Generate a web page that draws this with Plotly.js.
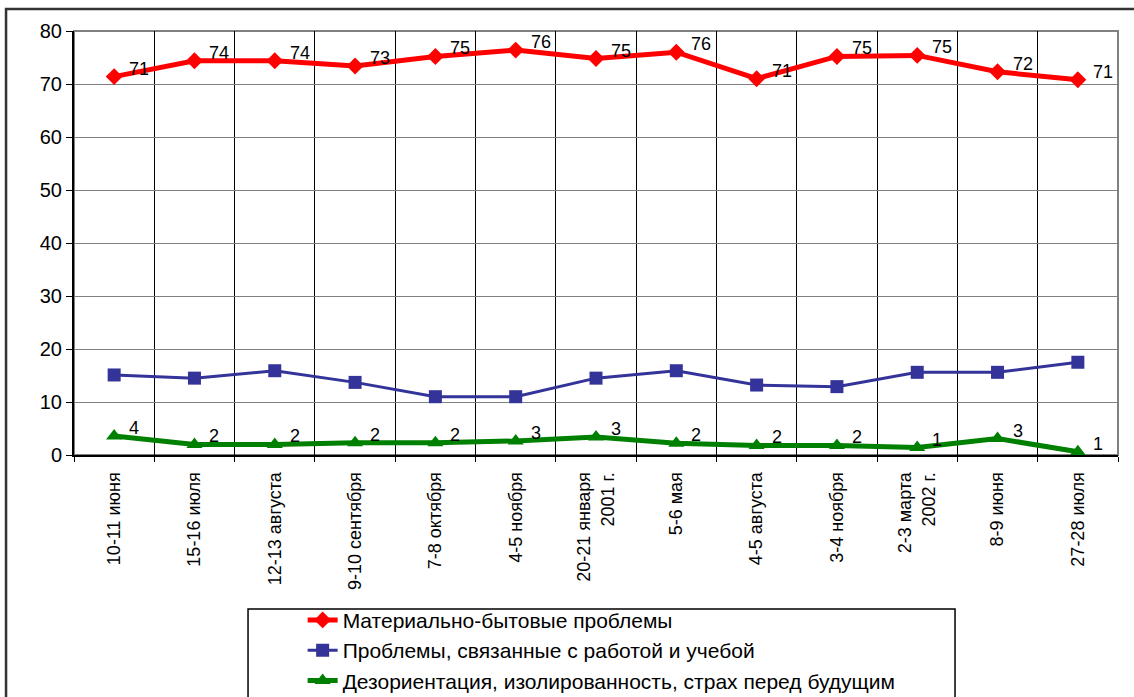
<!DOCTYPE html>
<html>
<head>
<meta charset="utf-8">
<script src="https://cdn.plot.ly/plotly-3.0.1.min.js"></script>
<style>html,body{margin:0;padding:0;background:#fff;}#chart{width:1134px;height:697px;}</style>
</head>
<body>
<div id="chart"></div>
<script>
var categories = ["10-11 июня", "15-16 июля", "12-13 августа", "9-10 сентября", "7-8 октября", "4-5 ноября",
  "20-21 января<br>2001 г.", "5-6 мая", "4-5 августа", "3-4 ноября", "2-3 марта<br>2002 г.", "8-9 июня", "27-28 июля"];
var seriesNames = ["Материально-бытовые проблемы", "Проблемы, связанные с работой и учебой", "Дезориентация, изолированность, страх перед будущим"];
var material = [71.4, 74.4, 74.4, 73.4, 75.2, 76.4, 74.8, 76.0, 71.0, 75.2, 75.4, 72.3, 70.8];
var work = [15.1, 14.5, 15.9, 13.7, 11.0, 11.0, 14.5, 15.9, 13.2, 12.9, 15.6, 15.6, 17.5];
var disorient = [3.6, 2.0, 2.0, 2.3, 2.3, 2.65, 3.4, 2.2, 1.8, 1.8, 1.4, 3.1, 0.6];
var yTicks = [0, 10, 20, 30, 40, 50, 60, 70, 80];

var FONT = "Arial, 'Liberation Sans', sans-serif";
var traces = [
  {x: categories, y: material, name: seriesNames[0], type: "scatter", mode: "lines+markers",
   line: {color: "#ff0000", width: 5}, marker: {symbol: "diamond", size: 13, color: "#ff0000"},
   cliponaxis: false, hoverinfo: "y"},
  {x: categories, y: work, name: seriesNames[1], type: "scatter", mode: "lines+markers",
   line: {color: "#333399", width: 3}, marker: {symbol: "square", size: 13, color: "#333399"},
   cliponaxis: false, hoverinfo: "y"},
  {x: categories, y: disorient, name: seriesNames[2], type: "scatter", mode: "lines+markers",
   line: {color: "#008000", width: 5}, marker: {symbol: "triangle-up", size: 14, color: "#008000"},
   cliponaxis: false, hoverinfo: "y"}
];

var annotations = [];
[material, disorient].forEach(function (arr) {
  arr.forEach(function (v, i) {
    annotations.push({x: categories[i], y: v, xref: "x", yref: "y", text: String(Math.round(v)),
      showarrow: false, xanchor: "left", yanchor: "middle", xshift: 13, yshift: 8,
      font: {family: FONT, size: 18, color: "#000"}});
  });
});

var layout = {
  width: 1134, height: 697,
  margin: {l: 74, r: 16, t: 31, b: 242},
  paper_bgcolor: "#fff", plot_bgcolor: "#fff",
  font: {family: FONT, color: "#000"},
  showlegend: true,
  xaxis: {
    type: "category", range: [-0.5, 12.5], automargin: false,
    tickson: "boundaries", showgrid: true, gridcolor: "#000", gridwidth: 1,
    ticks: "outside", ticklen: 5, tickcolor: "#000", tickangle: -90, ticklabelstandoff: 8,
    showline: true, linecolor: "#000", linewidth: 2,
    tickfont: {family: FONT, size: 18, color: "#000"}, zeroline: false, fixedrange: true
  },
  yaxis: {
    range: [0, 80], automargin: false, tickvals: yTicks, ticktext: yTicks.map(String),
    showgrid: true, gridcolor: "#808080", gridwidth: 1,
    ticks: "outside", ticklen: 6, tickcolor: "#000",
    showline: true, linecolor: "#000", linewidth: 2, zeroline: false,
    tickfont: {family: FONT, size: 20, color: "#000"}, fixedrange: true
  },
  legend: {
    xref: "paper", yref: "container", x: 0.219, y: 0.1395, xanchor: "left", yanchor: "top",
    bgcolor: "rgba(0,0,0,0)", borderwidth: 0,
    font: {family: FONT, size: 21, color: "#000"}, tracegroupgap: 0
  },
  annotations: annotations,
  shapes: [
    {type: "rect", xref: "paper", yref: "paper", x0: 0, x1: 1, y0: 0, y1: 1,
     line: {color: "#808080", width: 2}, layer: "below"},
    {type: "rect", xref: "paper", yref: "paper", x0: 0.1667, x1: 0.8439, y0: -0.3632, y1: -0.62,
     line: {color: "#000", width: 1.5}},
    {type: "rect", xref: "paper", yref: "paper", x0: -0.0651, x1: 1.05, y0: 1.0519, y1: -0.62,
     line: {color: "#333", width: 2.5}}
  ]
};

Plotly.newPlot("chart", traces, layout, {displayModeBar: false, staticPlot: true});
</script>
</body>
</html>
